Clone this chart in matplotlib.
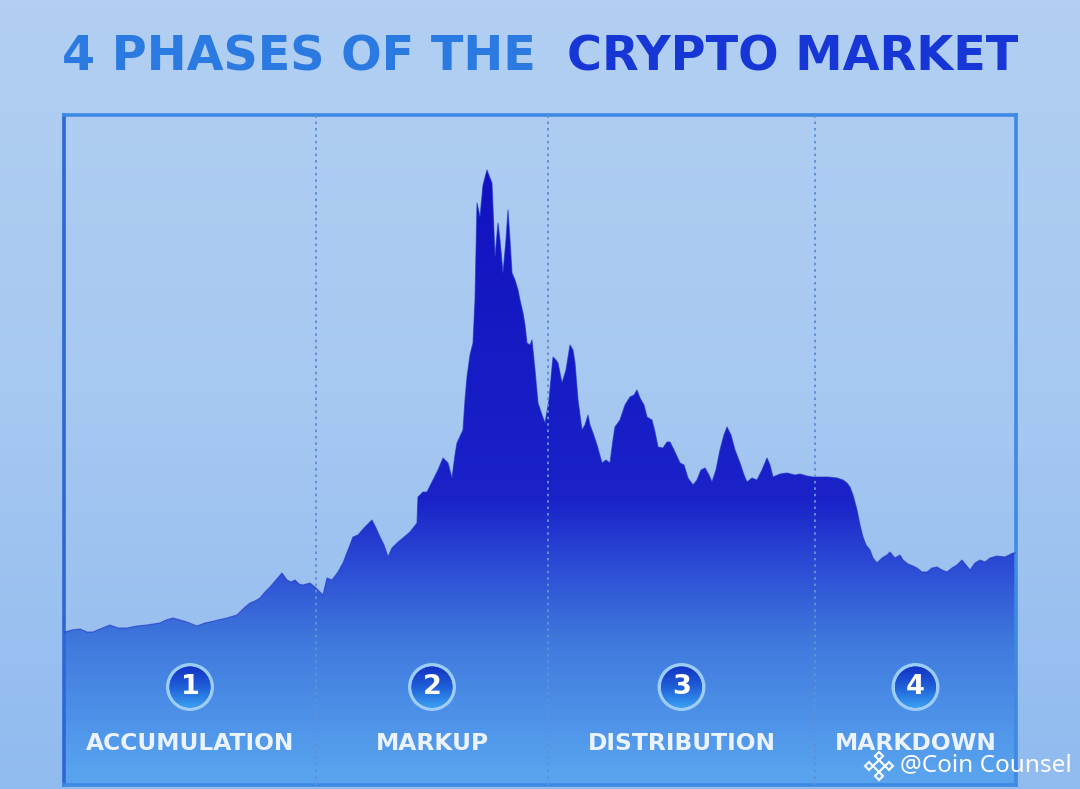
import numpy as np
import matplotlib
matplotlib.use("Agg")
import matplotlib.pyplot as plt
from matplotlib.colors import LinearSegmentedColormap
from matplotlib.patches import Circle

# price curve: day index and price level (same units as the frame)
days = [0, 1, 8, 16, 23, 29, 36, 46, 54, 63, 73, 83, 96, 102, 109, 116, 123, 133, 141,
        146, 154, 163, 173, 180, 186, 191, 196, 201, 206, 212, 218, 223, 227, 231, 235,
        239, 246, 252, 256, 259, 263, 268, 274, 279, 284, 289, 294, 300, 304, 308, 312,
        316, 320, 324, 328, 333, 339, 346, 353, 354, 359, 363, 369, 374, 379, 384, 388,
        391, 393, 399, 401, 403, 406, 409, 411, 413, 416, 419, 423, 426, 428, 431, 434,
        436, 439, 442, 444, 446, 448, 451, 454, 456, 459, 461, 463, 466, 468, 471, 474,
        478, 481, 485, 489, 492, 494, 498, 502, 506, 509, 511, 514, 518, 521, 524, 526,
        529, 533, 538, 542, 546, 549, 551, 556, 561, 566, 570, 573, 576, 580, 583, 588,
        591, 594, 599, 603, 606, 610, 616, 620, 624, 629, 633, 637, 641, 645, 648, 652,
        656, 660, 663, 667, 671, 676, 680, 683, 688, 693, 698, 703, 706, 709, 716, 723,
        731, 736, 743, 749, 756, 764, 773, 779, 783, 786, 789, 793, 796, 799, 802, 806,
        809, 813, 818, 823, 826, 831, 836, 839, 844, 849, 853, 858, 863, 868, 873, 878,
        883, 888, 893, 898, 902, 906, 911, 916, 921, 926, 933, 941, 949, 952]
price = [153, 153, 155, 156, 153, 153, 156, 160, 157, 157, 159, 160, 162, 165, 167, 165,
         163, 159, 162, 163, 165, 167, 170, 177, 182, 184, 187, 193, 198, 205, 212, 205,
         203, 205, 201, 200, 202, 197, 193, 190, 207, 205, 213, 222, 235, 248, 250, 257,
         261, 265, 257, 248, 240, 228, 237, 242, 247, 253, 262, 288, 293, 293, 305, 315,
         327, 322, 307, 330, 342, 355, 385, 408, 430, 442, 485, 582, 568, 600, 615, 607,
         602, 528, 562, 545, 512, 545, 575, 545, 512, 505, 495, 485, 472, 460, 442, 440,
         445, 415, 382, 370, 362, 385, 428, 425, 422, 402, 415, 440, 435, 422, 385, 355,
         360, 370, 360, 352, 340, 322, 325, 322, 345, 358, 365, 380, 388, 390, 395, 387,
         380, 368, 365, 353, 338, 337, 343, 343, 335, 322, 320, 307, 300, 305, 315, 317,
         310, 303, 315, 335, 350, 358, 350, 335, 322, 310, 303, 307, 305, 315, 327, 320,
         308, 311, 312, 310, 311, 309, 308, 308, 308, 307, 305, 302, 298, 290, 275, 260,
         248, 240, 235, 227, 222, 227, 230, 233, 227, 230, 225, 221, 219, 217, 213, 213,
         217, 218, 215, 213, 217, 220, 225, 220, 215, 222, 225, 223, 227, 229, 228, 232,
         232]

phase_edges = [0, 252, 484, 751, 952]
phase_numbers = ["1", "2", "3", "4"]
phase_names = ["ACCUMULATION", "MARKUP", "DISTRIBUTION", "MARKDOWN"]
title_left = "4 PHASES OF THE"
title_right = "CRYPTO MARKET"
watermark = "@Coin Counsel"

W, H = 1080, 789
fig = plt.figure(figsize=(W / 100, H / 100), dpi=100)

# light blue page background
bg = fig.add_axes([0, 0, 1, 1], zorder=0)
bg.axis("off")
bg_cmap = LinearSegmentedColormap.from_list("bg", ["#b2cff3", "#a7c8f1", "#90bbef"])
bg.imshow(np.linspace(0, 1, 256).reshape(-1, 1), cmap=bg_cmap, aspect="auto",
          extent=[0, 1, 0, 1], origin="upper")
bg.set_xlim(0, 1)
bg.set_ylim(0, 1)

# chart frame, one data unit = one pixel
ax = fig.add_axes([64 / W, 4 / H, 952 / W, 670 / H], zorder=1)
ax.patch.set_alpha(0)
ax.set_xticks([])
ax.set_yticks([])
for s in ax.spines.values():
    s.set_color("#3d89e4")
    s.set_linewidth(2.6)
ax.spines["left"].set_color("#2e66d4")

# area with vertical gradient
fill_cmap = LinearSegmentedColormap.from_list(
    "fill", [(0.0, "#5aa4ef"), (0.02, "#58a2ee"), (0.127, "#4a8ce6"),
             (0.216, "#3f78dc"), (0.336, "#2a48d4"), (0.425, "#1a22c8"),
             (1.0, "#1010bf")])
poly = ax.fill_between(days, price, 0, color="none", lw=0)
grad = ax.imshow(np.linspace(0, 1, 512).reshape(-1, 1), cmap=fill_cmap, aspect="auto",
                 extent=[0, 952, 0, 670], origin="lower", zorder=2)
grad.set_clip_path(poly.get_paths()[0], ax.transData)
ax.plot(days, price, color="#1a2cc4", lw=0.8, alpha=0.6, zorder=3)

# phase separators
for e in phase_edges[1:-1]:
    ax.axvline(e, color="#6090d4", lw=1.4, ls=(0, (1.3, 2.0)), zorder=4)

# numbered badges and phase names
badge_cmap = LinearSegmentedColormap.from_list("badge", ["#3aa0f2", "#2060d8", "#1232c4"])
for i, (num, name) in enumerate(zip(phase_numbers, phase_names)):
    cx = (phase_edges[i] + phase_edges[i + 1]) / 2
    cy = 98
    ax.add_patch(Circle((cx, cy), 24, fc="#9ccdf8", ec="none", zorder=5))
    inner = Circle((cx, cy), 20.5, fc="#1f5ad6", ec="none", zorder=6)
    ax.add_patch(inner)
    b = ax.imshow(np.linspace(0, 1, 64).reshape(-1, 1), cmap=badge_cmap, aspect="auto",
                  extent=[cx - 21, cx + 21, cy - 21, cy + 21], origin="lower", zorder=7)
    b.set_clip_path(inner)
    ax.text(cx, cy, num, ha="center", va="center", color="white", fontsize=19.5,
            fontweight="bold", zorder=8)
    ax.text(cx, 42, name, ha="center", va="center", color="#eaf3ff", fontsize=16.8,
            fontweight="bold", zorder=8)
ax.set_xlim(0, 952)
ax.set_ylim(0, 670)

# title in two colours, scaled to span the frame width
ty = 1 - 57 / H
t1 = fig.text(62 / W, ty, title_left, ha="left", va="center", color="#2a7ae1",
              fontsize=32, fontweight="bold")
t2 = fig.text(1018 / W, ty, title_right, ha="right", va="center", color="#1736d6",
              fontsize=32, fontweight="bold")
r = fig.canvas.get_renderer()
wsum = t1.get_window_extent(r).width + t2.get_window_extent(r).width
scale = (956 - 30) / wsum
t1.set_fontsize(32 * scale)
t2.set_fontsize(32 * scale)

# watermark on top
top = fig.add_axes([0, 0, 1, 1], zorder=10)
top.axis("off")
top.set_xlim(0, W)
top.set_ylim(H, 0)
top.text(1072, 765, watermark, ha="right", va="center", color="white", fontsize=17.5,
         family="Noto Sans")
lx, ly = 879, 766
top.plot([lx], [ly], marker="D", ms=6.5, mfc="none", mec="white", mew=1.5)
top.plot([lx - 10, lx + 10, lx, lx], [ly, ly, ly - 10, ly + 10], ls="none", marker="D",
         ms=4.5, mfc="none", mec="white", mew=1.5)

fig.savefig("out.png", dpi=100)
